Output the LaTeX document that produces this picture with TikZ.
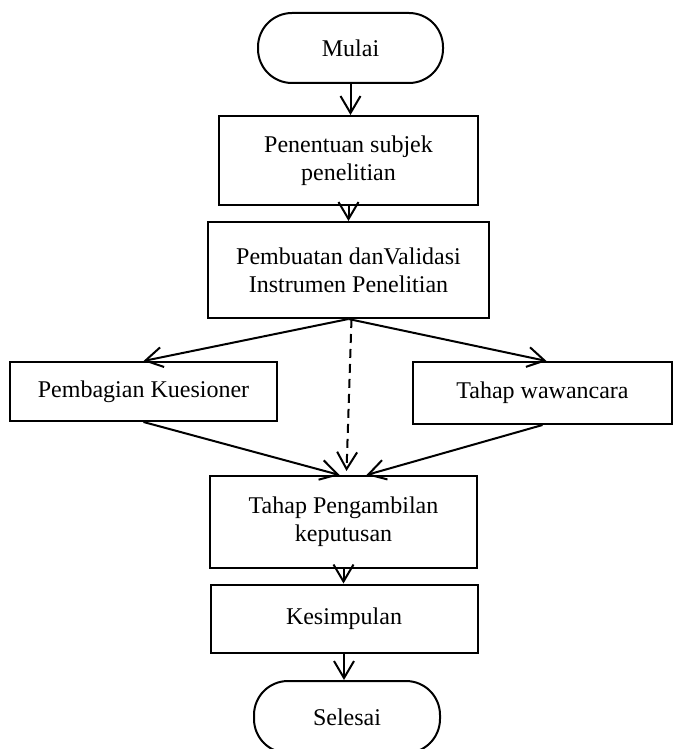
\documentclass[tikz,border=0pt]{standalone}
\usepackage{fontspec}
\setmainfont{Liberation Serif}
\usetikzlibrary{arrows.meta,positioning}

\begin{document}
\begin{tikzpicture}[x=0.5pt,y=-0.5pt,>={Straight Barb[length=8.5pt,width=10pt]},
  font=\fontsize{12}{14}\selectfont,
  flow/.style={->,line width=1pt},
  term/.style={draw,line width=1pt,rounded corners=17pt,minimum width=92.5pt,
    minimum height=35pt,inner sep=0pt},
  stepbox/.style={draw,line width=1pt,align=center,inner sep=0pt}]
\useasboundingbox (0,0) rectangle (673,749);
\node[term] (mulai) at (350.5,48) {Mulai};
\node[stepbox,minimum width=129.5pt,minimum height=44.5pt] (subjek) at (348.5,160.5)
  {Penentuan subjek\\penelitian};
\node[stepbox,minimum width=140.5pt,minimum height=48pt] (instrumen) at (348.5,270)
  {Pembuatan danValidasi\\Instrumen Penelitian};
\node[stepbox,minimum width=133.5pt,minimum height=29.5pt] (kuesioner) at (143.5,391.5)
  {Pembagian Kuesioner};
\node[stepbox,minimum width=129.5pt,minimum height=31pt] (wawancara) at (542.5,393)
  {Tahap wawancara};
\node[stepbox,minimum width=133.5pt,minimum height=46pt] (keputusan) at (343.5,522)
  {Tahap Pengambilan\\keputusan};
\node[stepbox,minimum width=133.5pt,minimum height=34pt] (kesimpulan) at (344,618.5)
  {Kesimpulan};
\node[term,minimum width=93pt,minimum height=36pt] (selesai) at (347,717) {Selesai};
\draw[flow] (mulai.south) -- (mulai.south |- subjek.north);
\draw[flow] (subjek.south) -- (subjek.south |- instrumen.north);
\draw[flow] (instrumen.south) -- (kuesioner.north);
\draw[flow] (instrumen.south) -- ([xshift=2pt]wawancara.north);
\draw[flow,dash pattern=on 4.5pt off 3pt] ([xshift=1.5pt]instrumen.south)
  -- ([xshift=1.5pt,yshift=2pt]keputusan.north);
\draw[flow] (kuesioner.south) -- ([xshift=-2pt]keputusan.north);
\draw[flow] (wawancara.south) -- ([xshift=11.5pt]keputusan.north);
\draw[flow] (keputusan.south) -- (keputusan.south |- kesimpulan.north);
\draw[flow] (kesimpulan.south) -- (kesimpulan.south |- selesai.north);
\end{tikzpicture}
\end{document}
